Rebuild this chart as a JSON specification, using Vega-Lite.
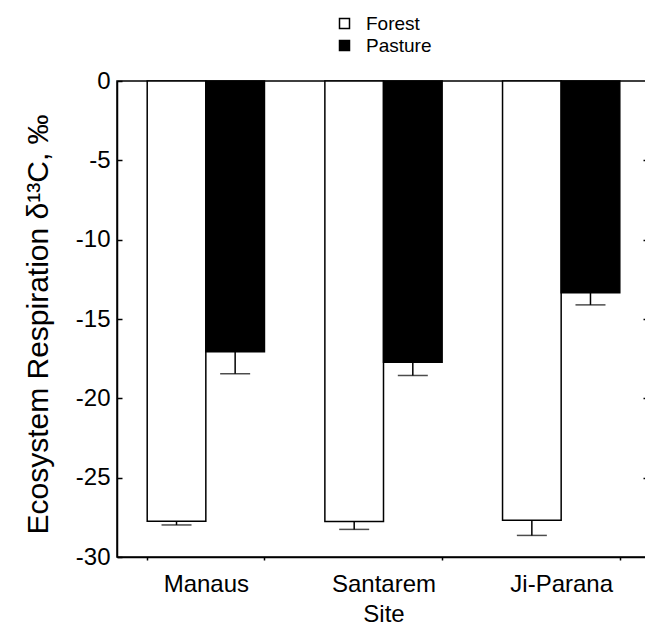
{
  "$schema": "https://vega.github.io/schema/vega-lite/v6.json",
  "width": 533,
  "height": 476,
  "autosize": {"type": "none"},
  "padding": {"left": 117, "top": 81, "right": 0, "bottom": 75},
  "background": "white",
  "config": {
    "font": "Liberation Sans",
    "view": {"stroke": "black", "strokeWidth": 1.5}
  },
  "data": {
    "values": [
      {"site": "Manaus", "cover": "Forest", "value": -27.75, "lo": -27.98},
      {"site": "Manaus", "cover": "Pasture", "value": -17.07, "lo": -18.45},
      {"site": "Santarem", "cover": "Forest", "value": -27.77, "lo": -28.26},
      {"site": "Santarem", "cover": "Pasture", "value": -17.72, "lo": -18.56},
      {"site": "Ji-Parana", "cover": "Forest", "value": -27.69, "lo": -28.64},
      {"site": "Ji-Parana", "cover": "Pasture", "value": -13.35, "lo": -14.11}
    ]
  },
  "encoding": {
    "x": {
      "field": "site",
      "type": "nominal",
      "sort": ["Manaus", "Santarem", "Ji-Parana"],
      "scale": {"paddingInner": 0.34, "paddingOuter": 0.17},
      "axis": {
        "title": "Site",
        "titleFontSize": 24,
        "titleFontWeight": "normal",
        "titleColor": "black",
        "titlePadding": 6,
        "labelFontSize": 24,
        "labelColor": "black",
        "labelAngle": 0,
        "labelPadding": 12,
        "tickSize": 3,
        "tickBand": "extent",
        "tickColor": "black",
        "tickWidth": 1.5,
        "domainColor": "black",
        "domainWidth": 1.5
      }
    },
    "xOffset": {
      "field": "cover",
      "sort": ["Forest", "Pasture"],
      "scale": {"paddingInner": 0, "paddingOuter": 0}
    }
  },
  "layer": [
    {
      "mark": {"type": "bar", "stroke": "black", "strokeWidth": 1.5},
      "encoding": {
        "y": {
          "field": "value",
          "type": "quantitative",
          "scale": {"domain": [-30, 0], "nice": false, "zero": false},
          "axis": {
            "orient": "left",
            "values": [0, -5, -10, -15, -20, -25, -30],
            "labelExpr": "replace(datum.label, '−', '-')",
            "grid": false,
            "tickSize": -5,
            "tickColor": "black",
            "tickWidth": 1.5,
            "labelPadding": 12,
            "labelFontSize": 24,
            "labelColor": "black",
            "domainColor": "black",
            "domainWidth": 1.5,
            "title": "Ecosystem Respiration δ¹³C, ‰",
            "titleFontSize": 30,
            "titleFontWeight": "normal",
            "titleColor": "black",
            "titlePadding": 22,
            "titleY": 243
          }
        },
        "y2": {"datum": 0},
        "fill": {
          "field": "cover",
          "type": "nominal",
          "scale": {"domain": ["Forest", "Pasture"], "range": ["white", "black"]},
          "legend": {
            "title": null,
            "orient": "none",
            "legendX": 218,
            "legendY": -67,
            "padding": 0,
            "symbolType": "square",
            "symbolSize": 100,
            "symbolStrokeColor": "black",
            "symbolStrokeWidth": 1.5,
            "labelFontSize": 19,
            "labelColor": "black",
            "labelOffset": 12,
            "rowPadding": 2
          }
        }
      }
    },
    {
      "mark": {"type": "rule", "color": "black", "strokeWidth": 1.5},
      "encoding": {
        "y": {"field": "value", "type": "quantitative", "axis": null},
        "y2": {"field": "lo"}
      }
    },
    {
      "mark": {"type": "tick", "color": "black", "thickness": 1.5, "size": 30},
      "encoding": {
        "y": {
          "field": "lo",
          "type": "quantitative",
          "axis": {
            "orient": "right",
            "values": [-5, -10, -15, -20, -25],
            "labels": false,
            "domain": false,
            "grid": false,
            "title": null,
            "tickSize": -7,
            "tickColor": "black",
            "tickWidth": 1.5
          }
        }
      }
    }
  ],
  "resolve": {"axis": {"y": "independent"}}
}
